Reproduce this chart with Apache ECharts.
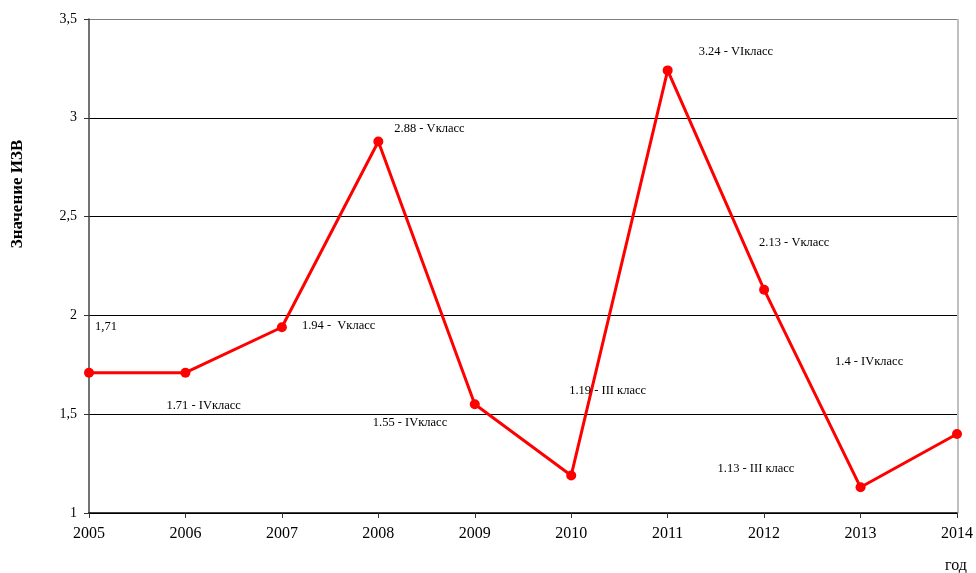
<!DOCTYPE html>
<html>
<head>
<meta charset="utf-8">
<script src="https://cdn.jsdelivr.net/npm/echarts@6/dist/echarts.min.js"></script>
<style>
  html, body { margin: 0; padding: 0; background: #fff; }
  #chart { width: 976px; height: 573px; }
</style>
</head>
<body>
<div id="chart"></div>
<script>
// Yearly index values (ИЗВ) and their class annotations
const years = ['2005', '2006', '2007', '2008', '2009', '2010', '2011', '2012', '2013', '2014'];
const izvValues = [1.71, 1.71, 1.94, 2.88, 1.55, 1.19, 3.24, 2.13, 1.13, 1.4];
const classNames = ['', 'IVкласс', ' Vкласс', 'Vкласс', 'IVкласс', 'III класс', 'VIкласс', 'Vкласс', 'III класс', 'IVкласс'];
const yAxisTitle = 'Значение ИЗВ';
const xAxisTitle = 'год';

const serif = '"Liberation Serif", "Times New Roman", serif';

// label placement relative to each point: [dx to text left edge, dy to text middle]
const labelOffsets = [
  [6, -46], [-19, 33], [20, -2], [16, -13], [-102, 18],
  [-2, -85], [31, -19], [-5, -47], [-143, -19], [-122, -72]
];

function labelText(i) {
  const v = izvValues[i];
  if (i === 0) return String(v).replace('.', ',');
  return v + ' - ' + classNames[i];
}

const seriesData = izvValues.map((v, i) => ({
  value: v,
  label: {
    show: true,
    position: 'inside',
    align: 'left',
    verticalAlign: 'middle',
    offset: labelOffsets[i],
    formatter: () => labelText(i)
  }
}));

const chart = echarts.init(document.getElementById('chart'), null, { renderer: 'canvas' });
chart.setOption({
  backgroundColor: '#ffffff',
  animation: false,
  grid: { left: 89, right: 18, top: 19, bottom: 60, containLabel: false },
  xAxis: {
    type: 'category',
    data: years,
    boundaryGap: false,
    axisLine: { show: true, lineStyle: { color: '#000', width: 1.5 } },
    axisTick: { show: true, length: 5, inside: false, lineStyle: { color: '#333' } },
    axisLabel: { color: '#000', fontFamily: serif, fontSize: 16, margin: 13 },
    splitLine: { show: false }
  },
  yAxis: {
    type: 'value',
    min: 1,
    max: 3.5,
    interval: 0.5,
    axisLine: { show: true, lineStyle: { color: '#444', width: 1.5 } },
    axisTick: { show: true, length: 5, lineStyle: { color: '#333' } },
    axisLabel: {
      color: '#000', fontFamily: serif, fontSize: 14, margin: 12,
      formatter: v => String(v).replace('.', ',')
    },
    splitLine: {
      show: true,
      lineStyle: { color: ['#000', '#000', '#000', '#000', '#000', '#808080'], width: 1 }
    }
  },
  graphic: [
    {
      type: 'line',
      shape: { x1: 958, y1: 19, x2: 958, y2: 513 },
      style: { stroke: '#808080', lineWidth: 1 }
    },
    {
      type: 'text',
      x: 18, y: 194,
      rotation: Math.PI / 2,
      style: {
        text: yAxisTitle, fill: '#000', font: 'bold 17px ' + serif,
        textAlign: 'center', textVerticalAlign: 'middle'
      }
    },
    {
      type: 'text',
      x: 956, y: 566,
      style: {
        text: xAxisTitle, fill: '#000', font: '16px ' + serif,
        textAlign: 'center', textVerticalAlign: 'middle'
      }
    }
  ],
  series: [{
    type: 'line',
    data: seriesData,
    symbol: 'circle',
    symbolSize: 10,
    lineStyle: { color: '#ff0000', width: 3 },
    itemStyle: { color: '#ff0000' },
    label: { color: '#000', fontFamily: serif, fontSize: 12.5 },
    z: 3
  }]
});
</script>
</body>
</html>
